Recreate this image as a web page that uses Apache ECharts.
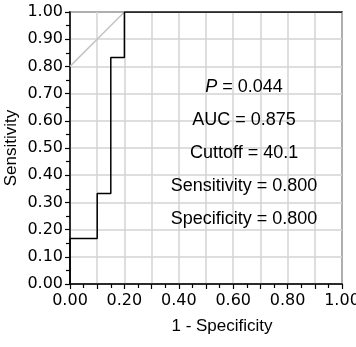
<!DOCTYPE html>
<html>
<head>
<meta charset="utf-8">
<script src="https://cdn.jsdelivr.net/npm/echarts@6/dist/echarts.min.js"></script>
<style>
  html, body { margin: 0; padding: 0; background: #fff; }
  #roc { width: 356px; height: 347px; }
</style>
</head>
<body>
<div id="roc"></div>
<script>
// ROC step curve (1 - specificity, sensitivity)
const fpr = [0, 0, 0.1, 0.1, 0.15, 0.15, 0.2, 0.2, 1];
const tpr = [0, 0.167, 0.167, 0.333, 0.333, 0.833, 0.833, 1, 1];
// grey reference line through the cutoff
const refX = [0, 0.2];
const refY = [0.8, 1];
// stats box
const statLines = [
  "{i|P} = 0.044",
  "AUC = 0.875",
  "Cuttoff = 40.1",
  "Sensitivity = 0.800",
  "Specificity = 0.800",
];

const chart = echarts.init(document.getElementById("roc"));

const axisCommon = {
  type: "value",
  min: 0,
  max: 1,
  interval: 0.1,
  nameLocation: "middle",
  nameMoveOverlap: false,
  nameTextStyle: {
    color: "#000",
    fontFamily: "Liberation Sans",
    fontSize: 17,
  },
  axisLine: { show: true, onZero: false, lineStyle: { color: "#000", width: 1.5 } },
  axisTick: { show: true, length: 5, lineStyle: { color: "#000", width: 1.2 } },
  minorTick: { show: true, splitNumber: 2, length: 4, lineStyle: { color: "#000", width: 1.2 } },
  splitLine: { show: true, lineStyle: { color: "#d3d3d3", width: 1.5 } },
  minorSplitLine: { show: false },
};

chart.setOption({
  animation: false,
  grid: {
    left: 70,
    right: 14,
    top: 12,
    bottom: 63,
    outerBoundsMode: "none",
    containLabel: false,
    show: true,
    borderColor: "#000",
    borderWidth: 1.5,
  },
  xAxis: Object.assign({}, axisCommon, {
    name: "1 - Specificity",
    nameGap: 34,
    nameTextStyle: Object.assign({}, axisCommon.nameTextStyle, { padding: [0, 0, 0, 32] }),
    axisLabel: {
      color: "#000",
      fontFamily: "DejaVu Sans",
      fontSize: 16,
      margin: 9,
      formatter: (v) => (Math.round(v * 10) % 2 === 0 ? v.toFixed(2) : ""),
    },
  }),
  yAxis: Object.assign({}, axisCommon, {
    name: "Sensitivity",
    nameGap: 50,
    axisLabel: {
      color: "#000",
      fontFamily: "DejaVu Sans",
      fontSize: 16,
      margin: 7,
      formatter: (v) => v.toFixed(2),
    },
  }),
  series: [
    {
      type: "line",
      data: refX.map((x, i) => [x, refY[i]]),
      symbol: "none",
      lineStyle: { color: "#c4c4c4", width: 1.5 },
      z: 2,
    },
    {
      type: "line",
      data: fpr.map((x, i) => [x, tpr[i]]),
      symbol: "none",
      lineStyle: { color: "#000", width: 1.5 },
      z: 3,
    },
  ],
});

// stats text, centred in the upper right part of the plot
const textX = chart.convertToPixel({ xAxisIndex: 0 }, 0.64);
chart.setOption({
  graphic: statLines.map((t, i) => ({
    type: "text",
    x: textX,
    y: 87 + i * 33,
    style: {
      text: t,
      fill: "#000",
      font: "18px 'Liberation Sans'",
      align: "center",
      verticalAlign: "middle",
      rich: {
        i: { fontStyle: "italic", fontSize: 18, fontFamily: "Liberation Sans", fill: "#000" },
      },
    },
  })),
});
</script>
</body>
</html>
